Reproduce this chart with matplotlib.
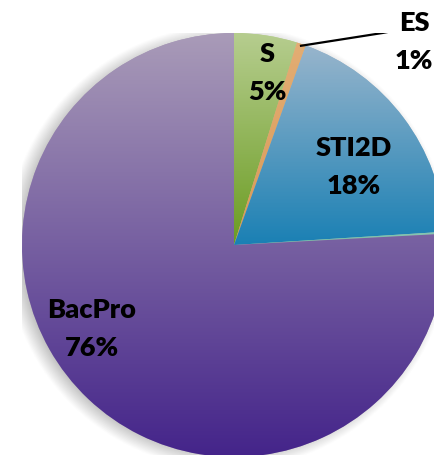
import numpy as np
import matplotlib
matplotlib.use("Agg")
import matplotlib.pyplot as plt
from matplotlib.colors import LinearSegmentedColormap

# ---- data ----
categories = ["S", "ES", "STI2D", "L", "BacPro"]
values = [4.8, 0.7, 18.5, 0.15, 75.85]
pct_labels = ["5%", "1%", "18%", "", "76%"]

# ---- style / layout ----
grad_colors = [
    ("#b6cd8f", "#6b9c22"),   # S
    ("#e3ad74", "#d99a58"),   # ES
    ("#98b5cc", "#1a80b4"),   # STI2D
    ("#8cc9b4", "#6fb8a0"),   # L (tiny)
    ("#a99bb8", "#44248a"),   # BacPro
]
label_pos = {"S": (0.156, 0.811), "ES": (0.849, 0.958),
             "STI2D": (0.566, 0.368), "BacPro": (-0.670, -0.396)}

W, H, DPI = 435, 455, 100
fig = plt.figure(figsize=(W / DPI, H / DPI), dpi=DPI)
cx, cy, R = 234, 245, 212
ax = fig.add_axes([(cx - R) / W, (H - cy - R) / H, 2 * R / W, 2 * R / H])
ax.set_axis_off()

# soft shadow
n = 400
xs = np.linspace(-1.2, 1.2, n)
X, Y = np.meshgrid(xs, xs)
d = np.hypot(X + 0.03, Y + 0.01)
blur = 0.05
a = np.clip((1.0 + blur - d) / (2 * blur), 0, 1) * 0.55
shadow = np.zeros((n, n, 4))
shadow[..., :3] = 0.45
shadow[..., 3] = a
ax.imshow(shadow, extent=[-1.2, 1.2, -1.2, 1.2], origin="lower", zorder=0,
          interpolation="bilinear")

wedges, _ = ax.pie(values, startangle=90, counterclock=False, radius=1.0,
                   colors=[c[0] for c in grad_colors],
                   wedgeprops=dict(linewidth=0))

grad = np.linspace(1, 0, 256).reshape(-1, 1)
for w, (ctop, cbot) in zip(wedges, grad_colors):
    w.set_zorder(1)
    ext = w.get_path().get_extents()
    cmap = LinearSegmentedColormap.from_list("g", [cbot, ctop])
    im = ax.imshow(grad, extent=[ext.x0, ext.x1, ext.y0, ext.y1], cmap=cmap,
                   aspect="auto", zorder=2, interpolation="bilinear",
                   origin="upper")
    im.set_clip_path(w)

font = dict(family=["Lato", "DejaVu Sans"], fontweight="heavy", fontsize=19.5,
            color="black", ha="center", va="center", linespacing=1.68, zorder=5)
for cat, pct in zip(categories, pct_labels):
    if cat in label_pos:
        x, y = label_pos[cat]
        ax.text(x, y, f"{cat}\n{pct}", **font)

# leader line for ES
ax.plot([0.311, 0.70, 0.726], [0.939, 1.0, 1.005], color="black", lw=1.6,
        zorder=6, solid_capstyle="butt")

ax.set_xlim(-1, 1)
ax.set_ylim(-1, 1)
ax.set_aspect("equal")
fig.savefig("out.png", dpi=DPI)
